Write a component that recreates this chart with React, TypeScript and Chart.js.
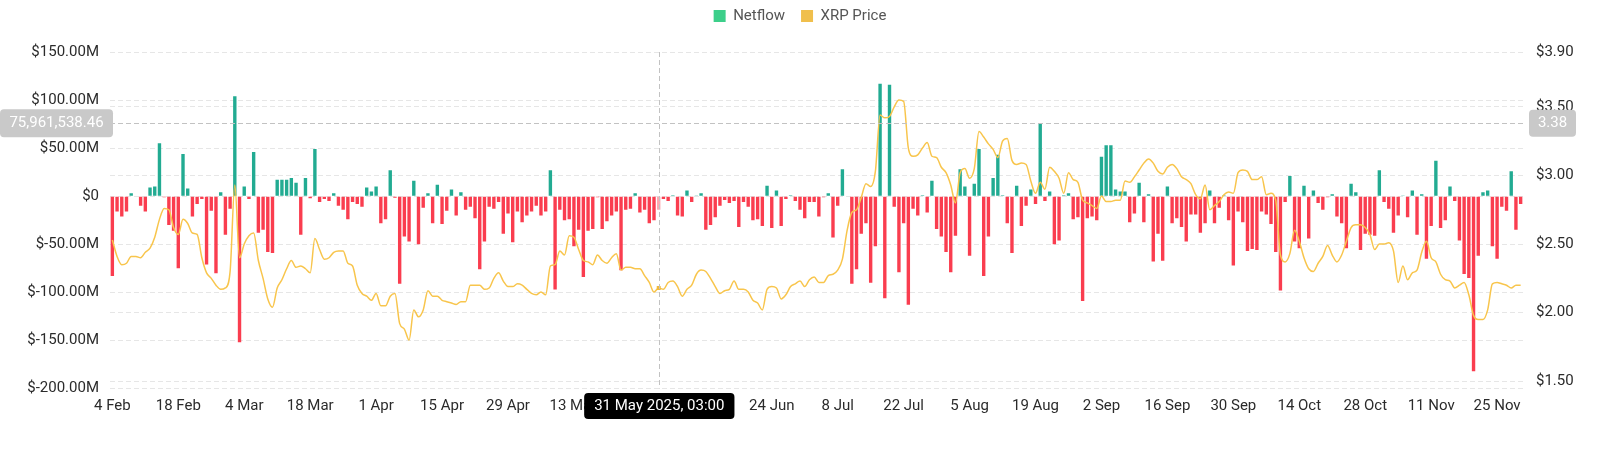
import { useEffect, useRef } from 'react';
import { Chart, registerables } from 'chart.js';

Chart.register(...registerables);

// ---------- data ----------
const START_YEAR = 2025;
const START_MONTH = 1; // February (0-based)
const START_DAY = 4;
const MONTH_NAMES = ['Jan', 'Feb', 'Mar', 'Apr', 'May', 'Jun', 'Jul', 'Aug', 'Sep', 'Oct', 'Nov', 'Dec'];
const TICK_EVERY = 14; // 4 Feb, 18 Feb, 4 Mar ...

// daily exchange netflow, $ millions
const NETFLOW_M = [
  -83, -16, -21, -16, 3, -0.5, -10, -16, 9, 10,
  55, -1, -30, -36, -75, 44, 8, -21, -8, -3,
  -71, -15, -80, 4, -40, -13, 104, -152, 10, -3,
  46, -38, -35, -58, -59, 17, 17, 17, 19, 14,
  -40, 19, -2, 49, -6, -3, -5, 3, -10, -14,
  -24, -6, -8, -11, 9, 5, 10, -28, -24, 27,
  -1.5, -91, -42, -47, 16, -50, -12, 3, -28, 12,
  -29, -15, 7, -20, 4, -14, -11, -23, -76, -47,
  -11, -13, -6, -39, -18, -48, -16, -27, -20, -16,
  -10, -20, -16, 27, -97, -14, -25, -24, -52, -35,
  -84, -36, -34, -1, -34, -26, -20, -16, -77, -14,
  -13, 3, -17, -14, -28, -25, -14, -3, -5, 1,
  -20, -21, 6, -6, 0.3, 3, -35, -30, -22, -10,
  -4, -7, -5, -32, -6, -11, -25, -24, -31, 11,
  -33, 6, -31, -3, 1, -5, -14, -23, -6, -6,
  -21, -1, 3, -43, -10, 28, 0.5, -91, -76, -39,
  -28, -90, -52, 117, -106, 116, -11, -79, -28, -113,
  -13, -20, 1, -17, 16, -34, -42, -58, -79, -41,
  28, 10, -62, 13, 49, -83, -42, 19, 43, 1,
  -28, -59, 11, -31, -10, 7, -8, 76, -5, 5,
  -50, -46, 1, 3, -24, -22, -109, -23, -21, -25,
  41, 53, 53, 7, 5, 5, -27, -18, 14, -27,
  2, -68, -39, -67, 10, -28, -23, -32, -47, -19,
  -19, -38, -28, 6, -28, -12, 1, -25, -72, -16,
  -27, -57, -55, -56, -16, -19, -29, -58, -98, -6,
  21, -47, -54, 11, -44, 6, -7, -14, -1, 2,
  -21, -28, -54, 13, 4, -56, -39, -40, -41, 27,
  -6, -13, -38, -20, 0.3, -22, 6, -40, 2, -65,
  -31, 37, -33, -25, 10, -5, -46, -81, -85, -182,
  -62, 4, 6, -52, -65, -11, -15, 26, -35, -8,
];

// daily XRP price, $
const XRP_PRICE = [
  2.53, 2.41, 2.35, 2.36, 2.41, 2.41, 2.40, 2.44, 2.47, 2.55,
  2.68, 2.76, 2.75, 2.62, 2.57, 2.68, 2.65, 2.58, 2.57, 2.40,
  2.29, 2.25, 2.20, 2.17, 2.18, 2.30, 2.93, 2.40, 2.50, 2.56,
  2.58, 2.38, 2.25, 2.10, 2.04, 2.18, 2.24, 2.32, 2.38, 2.33,
  2.34, 2.32, 2.29, 2.54, 2.46, 2.39, 2.40, 2.44, 2.45, 2.45,
  2.36, 2.34, 2.20, 2.14, 2.12, 2.09, 2.14, 2.05, 2.05, 2.12,
  2.14, 1.92, 1.88, 1.80, 2.02, 1.97, 2.02, 2.16, 2.12, 2.12,
  2.09, 2.08, 2.07, 2.06, 2.08, 2.08, 2.20, 2.20, 2.20, 2.17,
  2.18, 2.25, 2.29, 2.23, 2.19, 2.19, 2.21, 2.20, 2.17, 2.14,
  2.13, 2.15, 2.13, 2.34, 2.35, 2.45, 2.42, 2.56, 2.55, 2.46,
  2.38, 2.37, 2.35, 2.42, 2.38, 2.36, 2.40, 2.43, 2.31, 2.33,
  2.33, 2.32, 2.32, 2.27, 2.22, 2.15, 2.18, 2.17, 2.22, 2.23,
  2.19, 2.12, 2.17, 2.20, 2.28, 2.31, 2.30, 2.25, 2.19, 2.14,
  2.16, 2.17, 2.23, 2.17, 2.17, 2.15, 2.09, 2.07, 2.02, 2.17,
  2.19, 2.18, 2.10, 2.13, 2.19, 2.21, 2.23, 2.19, 2.24, 2.26,
  2.22, 2.22, 2.27, 2.28, 2.31, 2.39, 2.60, 2.73, 2.75, 2.84,
  2.94, 2.92, 3.03, 3.44, 3.42, 3.43, 3.50, 3.55, 3.54, 3.20,
  3.14, 3.15, 3.20, 3.24, 3.14, 3.13, 3.06, 3.02, 2.93, 2.80,
  3.02, 3.05, 2.98, 3.05, 3.32, 3.28, 3.23, 3.19, 3.13, 3.25,
  3.27, 3.11, 3.08, 3.09, 3.08, 2.96, 2.87, 2.95, 2.90, 3.06,
  3.03, 2.98, 2.87, 3.02, 2.97, 2.95, 2.82, 2.80, 2.78, 2.76,
  2.85, 2.81, 2.81, 2.82, 2.82, 2.96, 2.95, 2.99, 3.04, 3.09,
  3.12, 3.09, 3.03, 3.01, 3.06, 3.08, 3.05, 2.99, 2.97, 2.94,
  2.86, 2.83, 2.93, 2.75, 2.78, 2.81, 2.86, 2.88, 2.87, 3.02,
  3.04, 3.03, 2.97, 2.97, 2.99, 2.86, 2.87, 2.82, 2.42, 2.37,
  2.43, 2.60, 2.52, 2.40, 2.32, 2.30, 2.36, 2.41, 2.49, 2.42,
  2.37, 2.42, 2.52, 2.62, 2.64, 2.64, 2.62, 2.57, 2.46, 2.50,
  2.50, 2.51, 2.45, 2.22, 2.34, 2.24, 2.29, 2.31, 2.44, 2.52,
  2.40, 2.37, 2.28, 2.24, 2.23, 2.18, 2.20, 2.22, 2.13, 1.98,
  1.95, 1.95, 2.02, 2.21, 2.22, 2.21, 2.20, 2.18, 2.20, 2.20,
];

const NETFLOW_MIN = -200;
const NETFLOW_MAX = 150;
const NETFLOW_STEP = 50;
const PRICE_MIN = 1.447;
const PRICE_MAX = 3.9;
const PRICE_TICKS = [1.5, 2.0, 2.5, 3.0, 3.5, 3.9];

// hovered crosshair state shown in the reference
const CURSOR_INDEX = 116; // 31 May
const CURSOR_HOUR = 3;
const CURSOR_LABEL = '31 May 2025, 03:00';
const CURSOR_NETFLOW = 75961538.46;
const CURSOR_PRICE_LABEL = '3.38';

const CATEGORIES: string[] = NETFLOW_M.map((_, i) => {
  const d = new Date(Date.UTC(START_YEAR, START_MONTH, START_DAY + i));
  return `${d.getUTCDate()} ${MONTH_NAMES[d.getUTCMonth()]}`;
});

// ---------- styles ----------
const GREEN = '#22ab92';
const RED = '#fa3d4f';
const RED_HOVER = 'rgba(250, 61, 79, 0.45)';
const LEGEND_GREEN = '#3ccf8a';
const LEGEND_YELLOW = '#f0bf4c';
const LINE_YELLOW = '#f8c54c';
const FONT = 'Roboto, "Noto Sans", sans-serif';

function roundRect(ctx: CanvasRenderingContext2D, x: number, y: number, w: number, h: number, r: number) {
  ctx.beginPath();
  ctx.moveTo(x + r, y);
  ctx.lineTo(x + w - r, y);
  ctx.quadraticCurveTo(x + w, y, x + w, y + r);
  ctx.lineTo(x + w, y + h - r);
  ctx.quadraticCurveTo(x + w, y + h, x + w - r, y + h);
  ctx.lineTo(x + r, y + h);
  ctx.quadraticCurveTo(x, y + h, x, y + h - r);
  ctx.lineTo(x, y + r);
  ctx.quadraticCurveTo(x, y, x + r, y);
  ctx.closePath();
}

const legendGap = {
  id: 'legendGap',
  beforeInit(chart: any) {
    const legend = chart.legend;
    if (!legend) return;
    const fit = legend.fit;
    legend.fit = function () {
      fit.call(this);
      this.height += 18.5;
    };
  },
};

const crosshair = {
  id: 'crosshair',
  afterDraw(chart: any) {
    const { ctx, chartArea, scales } = chart;
    const xs = scales.x;
    const step = xs.getPixelForValue(1) - xs.getPixelForValue(0);
    const x = xs.getPixelForValue(CURSOR_INDEX) + (step * CURSOR_HOUR) / 24;
    const y = scales.y.getPixelForValue(CURSOR_NETFLOW / 1e6);
    ctx.save();
    ctx.strokeStyle = '#c2c2c2';
    ctx.lineWidth = 1;
    ctx.setLineDash([5, 3]);
    ctx.beginPath();
    ctx.moveTo(Math.round(x) + 0.5, chartArea.top);
    ctx.lineTo(Math.round(x) + 0.5, chartArea.bottom);
    ctx.stroke();
    ctx.beginPath();
    ctx.moveTo(chartArea.left, Math.round(y) + 0.5);
    ctx.lineTo(chartArea.right, Math.round(y) + 0.5);
    ctx.stroke();
    ctx.setLineDash([]);

    ctx.font = `15px ${FONT}`;
    ctx.textAlign = 'center';
    ctx.textBaseline = 'middle';

    // left value box
    const leftText = CURSOR_NETFLOW.toLocaleString('en-US', { minimumFractionDigits: 2, maximumFractionDigits: 2 });
    const lw = chartArea.left + 3;
    ctx.fillStyle = '#c9c9c9';
    roundRect(ctx, 0, y - 14, lw, 28, 4);
    ctx.fill();
    ctx.fillStyle = '#ffffff';
    ctx.fillText(leftText, lw / 2, y + 0.5);

    // right value box
    const rx = chartArea.right + 6;
    ctx.fillStyle = '#c9c9c9';
    roundRect(ctx, rx, y - 13.5, 47, 27, 4);
    ctx.fill();
    ctx.fillStyle = '#ffffff';
    ctx.fillText(CURSOR_PRICE_LABEL, rx + 23.5, y + 0.5);

    // bottom date box
    const bw = ctx.measureText(CURSOR_LABEL).width + 20;
    ctx.fillStyle = '#000000';
    roundRect(ctx, x - bw / 2, chartArea.bottom + 4.5, bw, 26, 4);
    ctx.fill();
    ctx.fillStyle = '#ffffff';
    ctx.fillText(CURSOR_LABEL, x, chartArea.bottom + 17.5);
    ctx.restore();
  },
};

export default function App() {
  const canvasRef = useRef<HTMLCanvasElement | null>(null);

  useEffect(() => {
    if (!canvasRef.current) return;
    const barColors = NETFLOW_M.map((v, i) =>
      i === CURSOR_INDEX ? RED_HOVER : v >= 0 ? GREEN : RED
    );
    const pointRadius = XRP_PRICE.map((_, i) => (i === CURSOR_INDEX ? 2.8 : 0));

    const chart = new Chart(canvasRef.current, {
      type: 'bar',
      data: {
        labels: CATEGORIES,
        datasets: [
          {
            type: 'line',
            label: 'XRP Price',
            data: XRP_PRICE,
            yAxisID: 'y1',
            borderColor: LINE_YELLOW,
            backgroundColor: '#f0b93a',
            borderWidth: 1.5,
            pointRadius,
            pointStyle: 'rect',
            pointBorderWidth: 0,
            cubicInterpolationMode: 'monotone',
            order: 0,
          } as any,
          {
            type: 'bar',
            label: 'Netflow',
            data: NETFLOW_M,
            yAxisID: 'y',
            backgroundColor: barColors,
            barPercentage: 0.72,
            categoryPercentage: 1,
            order: 1,
          } as any,
        ],
      },
      options: {
        responsive: true,
        maintainAspectRatio: false,
        animation: false,
        events: [],
        layout: { padding: { top: -7.5, left: 0, right: 0, bottom: 0 } },
        plugins: {
          tooltip: { enabled: false },
          legend: {
            position: 'top',
            align: 'center',
            labels: {
              boxWidth: 12,
              boxHeight: 12,
              padding: 16,
              color: '#555555',
              font: { family: FONT, size: 15 },
              generateLabels: () => [
                { text: 'Netflow', fillStyle: LEGEND_GREEN, strokeStyle: LEGEND_GREEN, lineWidth: 0, hidden: false, datasetIndex: 1, fontColor: '#555555' },
                { text: 'XRP Price', fillStyle: LEGEND_YELLOW, strokeStyle: LEGEND_YELLOW, lineWidth: 0, hidden: false, datasetIndex: 0, fontColor: '#555555' },
              ] as any,
            },
          },
        },
        scales: {
          x: {
            type: 'category',
            offset: true,
            grid: { display: false, drawTicks: false },
            border: { display: false },
            ticks: {
              autoSkip: false,
              maxRotation: 0,
              minRotation: 0,
              padding: 9,
              color: '#2b2b2b',
              font: { family: FONT, size: 15 },
              callback: (_v: any, index: number) => (index % TICK_EVERY === 0 ? CATEGORIES[index] : ''),
            },
            afterFit: (scale: any) => {
              scale.height = 65.5;
            },
          },
          y: {
            type: 'linear',
            position: 'left',
            min: NETFLOW_MIN,
            max: NETFLOW_MAX,
            grid: { color: '#e6e6e6', drawTicks: false, lineWidth: 1 },
            border: { display: false, dash: [5, 3] },
            ticks: {
              stepSize: NETFLOW_STEP,
              padding: 11,
              color: '#2b2b2b',
              font: { family: FONT, size: 15 },
              callback: (v: any) => (Number(v) === 0 ? '$0' : `$${Number(v).toFixed(2)}M`),
            },
            afterFit: (scale: any) => {
              scale.width = 110;
            },
          },
          y1: {
            type: 'linear',
            position: 'right',
            min: PRICE_MIN,
            max: PRICE_MAX,
            grid: { color: '#e6e6e6', drawTicks: false, lineWidth: 1 },
            border: { display: false, dash: [5, 3] },
            afterBuildTicks: (scale: any) => {
              scale.ticks = PRICE_TICKS.map((value) => ({ value }));
            },
            ticks: {
              padding: 13,
              color: '#2b2b2b',
              font: { family: FONT, size: 15 },
              callback: (v: any) => `$${Number(v).toFixed(2)}`,
            },
            afterFit: (scale: any) => {
              scale.width = 77;
            },
          },
        },
      },
      plugins: [legendGap, crosshair],
    });

    return () => chart.destroy();
  }, []);

  return (
    <div style={{ position: 'absolute', left: 0, top: 0, width: 1600, height: 454, background: '#ffffff' }}>
      <canvas ref={canvasRef} />
    </div>
  );
}
